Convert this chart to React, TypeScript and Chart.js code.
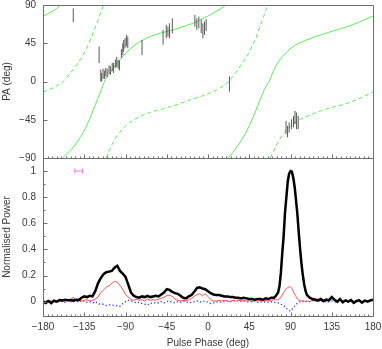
import React, { useEffect, useRef } from 'react';
import { Chart, registerables } from 'chart.js';
Chart.register(...registerables);

// ---- axis ticks ----
const xTicks = [-180, -135, -90, -45, 0, 45, 90, 135, 180];
const paTicks = [-90, -45, 0, 45, 90];
const powerTicks = [0, 0.2, 0.4, 0.6, 0.8, 1];

// ---- RVM fit curves (null = wrap of PA) ----
const rvmSolidPhase = [-180, -175, -170.5, -165, -160.7, null, -158.6, -153, -147, -141.5, -136.2, -131.5, -127, -123.5, -119.8, -116, -111.8, -107.1, -102, -96.3, -89, -81.8, -74.5, -67.2, -56, -45.5, -34, -23.7, -13, -3.8, 2, 7, 13, 19.8, null, 22.3, 27, 32.4, 38, 43.3, 49, 54.2, 58, 61.5, 66.9, 71, 75.9, 83, 90.5, 97.5, 105, 114, 123.1, 135, 148.5, 164, 180];
const rvmSolidPA = [77, 79.5, 82.2, 86, 90, null, -90, -84, -77.4, -69, -59.9, -50, -38.5, -29, -18.9, -8.5, 2.5, 9.9, 18, 25.6, 34, 41.2, 46.5, 50.9, 55.5, 58.7, 62, 65.8, 70, 75.1, 78, 81.3, 85, 90, null, -90, -83.5, -75.6, -66.5, -56, -42.5, -28.7, -18.5, -9.2, 0.2, 11.5, 21.6, 31.5, 39.2, 44, 47.8, 51.5, 54.9, 59, 63.4, 69.5, 77];

const rvmDashPhase = [-180, -168.8, -157.9, -150, -143.3, -137.5, -132.5, -128, -123.4, -119, -114, null, -111, -108, -105.3, -101, -96.3, -91, -85.4, -75, -63.6, -50, -38.3, -18.3, 1.6, 12, 23.4, 30, 36.1, 42, 47, 52, 56, 60.5, 65, null, 68, 71, 74.2, 78.5, 83.2, 90, 97.7, 110, 123.1, 135, 148.5, 164, 180];
const rvmDashPA = [-12.3, -7.2, 0.2, 10, 19.7, 29, 39.2, 50, 62.6, 75, 90, null, -90, -82, -75.6, -67, -59.9, -53.5, -48.2, -41.5, -36.5, -32.5, -28.7, -21.2, -13.9, -8.5, 1, 10, 19.7, 29, 39.2, 50.5, 62.6, 76, 90, null, -90, -83, -75.6, -67.5, -59.9, -52.5, -46.3, -40, -34.6, -30.5, -26.7, -20.5, -12.3];

// ---- measured position angles with errors ----
const paPhase = [-147, -118.8, -117, -116, -114.5, -113, -111.5, -110, -108, -106.5, -104.5, -103, -101, -99.5, -98, -96.5, -94.5, -93, -92, -90.5, -89, -87.5, -72, -49, -45.5, -43.7, -41.9, -38.9, -14.3, -12.2, -10, -7.4, -5.6, -3.8, -2, 23.4, 85.1, 86.8, 88.6, 91.2, 93.3, 94.9, 96.6, 98.4];
const paValue = [77.8, 31.4, 7, 5, 9, 8, 11, 10, 14, 13, 17, 16, 21, 23, 20, 19, 33, 38, 42, 45, 48, 46, 40, 52, 58.8, 58.7, 59.7, 65.5, 71.5, 67.5, 69.5, 64.8, 59.7, 62.7, 66.5, -3, -54.1, -58.9, -54, -50.2, -47.2, -42.4, -46.3, -48.2];
const paError = [8.2, 9.8, 7, 5, 6, 5, 5, 5, 5, 5, 5, 6, 5, 6, 5, 6, 5, 6.8, 6.9, 5.9, 6.8, 6.8, 8.8, 8.8, 7.8, 5.9, 8.8, 8.8, 6.9, 6.8, 6.8, 8, 8.8, 7.8, 7, 9, 7.8, 6.8, 5.9, 5.9, 6.8, 7.8, 9.8, 7.8];

// ---- pulse profile ----
const profilePhase = [
  -180, -177, -174, -171, -168, -165, -162, -159, -156, -153,
  -150, -147, -144, -141, -138, -135, -132, -129, -126, -123,
  -120, -117, -114, -111, -108, -105, -102, -99, -96, -93,
  -90, -87, -84, -81, -78, -75, -72, -69, -66, -63,
  -60, -57, -54, -51, -48, -45, -42, -39, -36, -33,
  -30, -27, -24, -21, -18, -15, -12, -9, -6, -3,
  0, 3, 6, 9, 12, 15, 18, 21, 24, 27,
  30, 33, 36, 39, 42, 45, 48, 51, 54, 57,
  60, 63, 66, 69, 72,
  73.5, 75, 76.5, 78, 79.5, 81, 82.5, 84, 85.5, 87, 88.5, 90, 91.5, 93, 94.5, 96, 97.5, 99, 100.5, 102, 103.5, 105, 106.5, 108,
  111, 114, 117, 120, 123, 126, 129, 132, 135, 138, 141, 144, 147, 150, 153, 156, 159, 162, 165, 168, 171, 174, 177, 180,
];
const totalPower = [
  0.0, -0.01, 0.005, -0.012, 0.008, 0.0, 0.012, 0.008, 0.015, 0.01,
  0.012, 0.008, 0.015, 0.012, 0.03, 0.04, 0.035, 0.045, 0.04, 0.08,
  0.14, 0.18, 0.21, 0.225, 0.23, 0.235, 0.26, 0.275, 0.235, 0.215,
  0.19, 0.13, 0.07, 0.045, 0.035, 0.03, 0.04, 0.035, 0.045, 0.035,
  0.04, 0.045, 0.04, 0.055, 0.07, 0.095, 0.09, 0.075, 0.065, 0.06,
  0.045, 0.03, 0.025, 0.04, 0.05, 0.075, 0.105, 0.11, 0.1, 0.095,
  0.08, 0.065, 0.055, 0.05, 0.05, 0.045, 0.04, 0.04, 0.035, 0.035,
  0.03, 0.03, 0.025, 0.03, 0.025, 0.02, 0.02, 0.015, 0.02, 0.02,
  0.015, 0.025, 0.02, 0.03, 0.03,
  0.04, 0.055, 0.07, 0.12, 0.22, 0.37, 0.5, 0.68, 0.8, 0.92, 0.98, 1.0, 0.995, 0.95, 0.88, 0.78, 0.67, 0.53, 0.4, 0.29, 0.2, 0.13, 0.08, 0.05,
  0.03, 0.02, 0.015, 0.01, 0.02, 0.005, 0.015, 0.01, 0.035, 0.015, 0.0, 0.02, -0.005, 0.01, 0.0, 0.012, -0.01, 0.005, 0.01, -0.008, 0.008, 0.0, 0.01, 0.015,
];
const linearPower = [
  0.005, 0.0, 0.01, 0.005, 0.01, 0.005, 0.008, 0.01, 0.005, 0.012,
  0.01, 0.035, 0.01, 0.015, 0.005, 0.01, 0.015, 0.005, 0.01, 0.02,
  0.035, 0.07, 0.09, 0.11, 0.12, 0.14, 0.155, 0.15, 0.125, 0.095,
  0.055, 0.035, 0.015, 0.01, 0.02, 0.01, 0.015, 0.005, 0.02, 0.01,
  0.015, 0.01, 0.02, 0.025, 0.035, 0.045, 0.05, 0.04, 0.02, 0.01,
  0.005, 0.01, 0.005, 0.015, 0.025, 0.04, 0.055, 0.06, 0.045, 0.06,
  0.04, 0.015, 0.005, 0.005, 0.01, 0.005, 0.01, 0.005, 0.0, 0.01,
  0.005, 0.012, 0.005, 0.01, 0.005, 0.01, 0.0, 0.008, 0.005, 0.01,
  0.005, 0.01, 0.005, 0.01, 0.015,
  0.015, 0.012, 0.015, 0.02, 0.035, 0.05, 0.07, 0.085, 0.1, 0.108, 0.114, 0.112, 0.1, 0.08, 0.055, 0.04, 0.022, 0.01, 0.005, 0.008, 0.005, 0.005, 0.0, 0.005,
  0.0, 0.01, 0.005, 0.0, 0.01, 0.0, 0.005, 0.01, 0.025, 0.01, 0.0, 0.01, 0.005, 0.0, 0.01, 0.005, 0.0, 0.01, 0.005, 0.0, 0.008, 0.005, 0.0, 0.01,
];
const circularPower = [
  0.0, 0.01, -0.005, 0.005, -0.01, 0.005, 0.0, 0.01, -0.005, 0.008,
  0.0, 0.005, -0.005, 0.01, 0.0, 0.005, -0.005, 0.0, -0.01, 0.0,
  -0.015, -0.02, -0.02, -0.03, -0.025, -0.025, -0.03, -0.03, -0.035, -0.015,
  0.0, 0.01, 0.005, 0.0, -0.01, -0.005, -0.015, -0.02, -0.025, -0.01,
  -0.015, -0.005, -0.01, 0.0, -0.01, 0.0, 0.005, -0.005, -0.01, 0.0,
  -0.005, 0.005, 0.0, -0.01, -0.005, 0.0, 0.005, -0.005, 0.005, 0.0,
  -0.005, -0.015, -0.01, -0.005, 0.0, -0.005, 0.0, 0.005, 0.0, 0.005,
  0.01, 0.005, 0.0, 0.005, 0.0, -0.005, 0.0, 0.005, -0.005, 0.0,
  -0.005, 0.0, -0.005, 0.0, -0.005,
  -0.005, -0.008, -0.01, -0.015, -0.02, -0.025, -0.03, -0.04, -0.05, -0.06, -0.068, -0.072, -0.06, -0.048, -0.035, -0.022, -0.012, -0.005, 0.0, 0.005, 0.0, 0.005, 0.0, 0.005,
  0.0, 0.01, 0.02, 0.005, 0.0, 0.005, -0.005, 0.0, 0.005, 0.0, -0.005, 0.005, 0.0, 0.01, -0.005, 0.015, 0.0, 0.005, 0.0, -0.005, 0.005, 0.01, 0.0, 0.005,
];

// ---- resolution bar ----
const beamPhase = [-145.2, -136.8];
const beamLevel = [1, 1];

const FONT = 'Liberation Sans, Arial, sans-serif';
const TXT = '#3a3a3a';
const FRAME = '#6e6e6e';

const fmt = (v: number) => String(v).replace('-', '\u2212');

function toXY(xs: (number | null)[], ys: (number | null)[]) {
  return xs.map((x, i) => ({ x: x === null ? (xs[i - 1] as number) : x, y: ys[i] }));
}

const noPad = (s: any) => {
  s.paddingTop = 0;
  s.paddingBottom = 0;
  s.paddingLeft = 0;
  s.paddingRight = 0;
};

const framePlugin = {
  id: 'pgframe',
  afterDraw(chart: any) {
    const { ctx, chartArea } = chart;
    const sx = chart.scales.x;
    const sT = chart.scales.yPA;
    const sB = chart.scales.yP;
    const L = Math.round(chartArea.left) + 0.5;
    const R = Math.round(chartArea.right) + 0.5;
    ctx.save();
    ctx.strokeStyle = FRAME;
    ctx.lineWidth = 1;
    ctx.beginPath();
    for (const s of [sT, sB]) {
      const T = Math.round(s.top) + 0.5;
      const B = Math.round(s.bottom) + 0.5;
      ctx.rect(L, T, R - L, B - T);
      for (let v = -180; v <= 180; v += 5) {
        const px = Math.round(sx.getPixelForValue(v)) + 0.5;
        const len = v % 45 === 0 ? 4 : 2;
        ctx.moveTo(px, B);
        ctx.lineTo(px, B - len);
      }
    }
    for (const v of paTicks) {
      const py = Math.round(sT.getPixelForValue(v)) + 0.5;
      ctx.moveTo(L, py);
      ctx.lineTo(L + 4, py);
    }
    for (let k = 0; k <= 10; k++) {
      const py = Math.round(sB.getPixelForValue(k / 10)) + 0.5;
      ctx.moveTo(L, py);
      ctx.lineTo(L + (k % 2 === 0 ? 4 : 2), py);
    }
    ctx.stroke();
    ctx.restore();
  },
};

export default function App() {
  const ref = useRef<HTMLCanvasElement>(null);
  useEffect(() => {
    const canvas = ref.current!;
    const errData: { x: number; y: number | null }[] = [];
    paPhase.forEach((p, i) => {
      errData.push({ x: p, y: paValue[i] - paError[i] });
      errData.push({ x: p, y: paValue[i] + paError[i] });
      errData.push({ x: p, y: null });
    });
    const line = (d: any, color: string, w: number, extra: any = {}) => ({
      type: 'line',
      data: d,
      borderColor: color,
      backgroundColor: color,
      borderWidth: w,
      pointRadius: 0,
      fill: false,
      tension: 0,
      spanGaps: false,
      ...extra,
    });
    const chart = new Chart(canvas, {
      type: 'line',
      data: {
        datasets: [
          line(toXY(profilePhase, totalPower), '#000000', 2.5, { yAxisID: 'yP' }),
          line(toXY(profilePhase, linearPower), '#ff5050', 1, { yAxisID: 'yP' }),
          line(toXY(profilePhase, circularPower), '#3040ff', 1.3, { yAxisID: 'yP', borderDash: [1.3, 2.2] }),
          line(toXY(beamPhase, beamLevel), '#ff66ff', 1, {
            yAxisID: 'yP', pointRadius: 2.5, pointStyle: 'line', rotation: 90, pointBorderWidth: 1,
          }),
          line(errData, '#585858', 1, { yAxisID: 'yPA' }),
          line(toXY(rvmSolidPhase, rvmSolidPA), '#5ee85e', 1, { yAxisID: 'yPA', cubicInterpolationMode: 'monotone' }),
          line(toXY(rvmDashPhase, rvmDashPA), '#5ee85e', 1, { yAxisID: 'yPA', cubicInterpolationMode: 'monotone', borderDash: [4, 3] }),
        ] as any,
      },
      options: {
        responsive: false,
        animation: false,
        events: [],
        layout: { padding: { left: 0, right: 9, top: 3, bottom: 0 } },
        plugins: { legend: { display: false }, tooltip: { enabled: false } },
        scales: {
          x: {
            type: 'linear',
            position: 'bottom',
            min: -180,
            max: 180,
            grid: { display: false, drawTicks: false },
            border: { display: false },
            afterFit: (s: any) => { s.height = 33; noPad(s); },
            afterBuildTicks: (s: any) => { s.ticks = xTicks.map((v) => ({ value: v })); },
            ticks: {
              autoSkip: false, maxRotation: 0, padding: 5, color: TXT,
              font: { family: FONT, size: 10 },
              callback: (v: any) => fmt(Number(v)),
            },
            title: {
              display: true, text: 'Pulse Phase (deg)', color: TXT,
              font: { family: FONT, size: 10 }, padding: { top: 0, bottom: 0 },
            },
          },
          yP: {
            type: 'linear',
            position: 'left',
            stack: 'panels',
            stackWeight: 159,
            min: -0.11,
            max: 1.1,
            grid: { display: false, drawTicks: false },
            border: { display: false },
            afterFit: (s: any) => { s.width = 43; noPad(s); },
            afterBuildTicks: (s: any) => { s.ticks = powerTicks.map((v) => ({ value: v })); },
            ticks: {
              padding: 7, color: TXT, font: { family: FONT, size: 10 },
              callback: (v: any) => fmt(Number(v)),
            },
            title: {
              display: true, text: 'Normalised Power', color: TXT,
              font: { family: FONT, size: 10 }, padding: { top: 1, bottom: 0 },
            },
          },
          yPA: {
            type: 'linear',
            position: 'left',
            stack: 'panels',
            stackWeight: 154,
            min: -90,
            max: 90,
            grid: { display: false, drawTicks: false },
            border: { display: false },
            afterFit: (s: any) => { s.width = 43; noPad(s); },
            afterBuildTicks: (s: any) => { s.ticks = paTicks.map((v) => ({ value: v })); },
            ticks: {
              padding: 7, color: TXT, font: { family: FONT, size: 10 },
              callback: (v: any) => fmt(Number(v)),
            },
            title: {
              display: true, text: 'PA (deg)', color: TXT,
              font: { family: FONT, size: 10 }, padding: { top: 1, bottom: 0 },
            },
          },
        } as any,
      },
      plugins: [framePlugin],
    } as any);
    return () => chart.destroy();
  }, []);
  return (
    <div style={{ position: 'absolute', left: 0, top: 0, width: 382, height: 349, background: '#fff' }}>
      <canvas ref={ref} width={382} height={349} style={{ display: 'block', width: 382, height: 349 }} />
    </div>
  );
}
